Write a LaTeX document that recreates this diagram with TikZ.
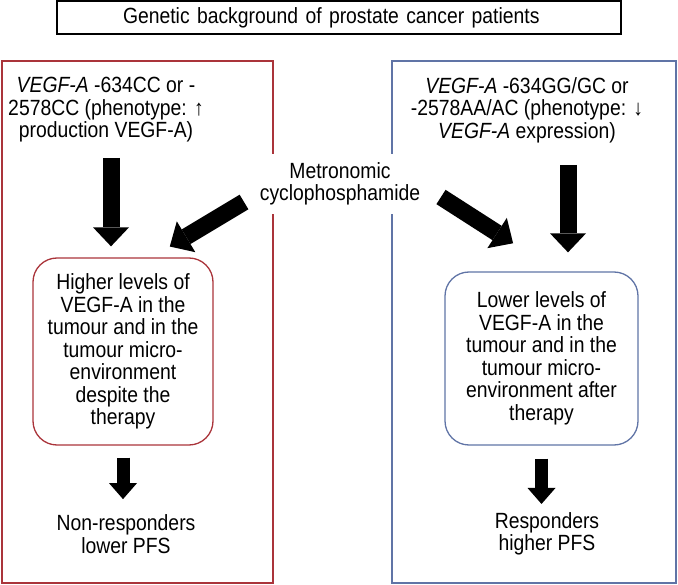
\documentclass[tikz,border=0pt]{standalone}
\usepackage{fontspec}
\setmainfont{Liberation Sans}[FakeStretch=0.88]
\usepackage{tikz}
\usetikzlibrary{arrows.meta}

\definecolor{nonred}{RGB}{170,52,58}
\definecolor{respblue}{RGB}{96,116,166}

\tikzset{
	txt/.style={align=center, font=\fontsize{22}{22.5}\selectfont},
	outcome/.style={txt, draw=#1, rounded corners=24pt, line width=1.3pt},
	bigarrow/.style={line width=17pt, -{Triangle[width=36pt,length=19pt,line width=0pt]}},
	smallarrow/.style={line width=13pt, -{Triangle[width=28pt,length=16pt,line width=0pt]}},
}

\begin{document}
\begin{tikzpicture}[x=1pt,y=1pt]
		\useasboundingbox (0,0) rectangle (678,-585);
%		\draw[help lines,step=50] (0,0) grid (678,-585);
		\draw[nonred, line width=1.3pt] (2,-61) rectangle (273,-583);
		\draw[respblue, line width=1.3pt] (392,-61) rectangle (676,-583);

		\path (111,-158) coordinate (down_l);
		\path (568,-165) coordinate (down_r);
		\path (244,-202) coordinate (cyc_l);
		\path (441,-197) coordinate (cyc_r);

		\node[txt, align=left, draw, line width=1.6pt, text width=432pt, inner xsep=66pt, minimum height=33pt] (title) at (339,-17.5) {Genetic background of prostate cancer patients};

		\node[txt] (genL) at (106,-110) {\textit{VEGF-A} -634CC or -\\2578CC (phenotype: ↑\\production VEGF-A)};
		\node[txt] (genR) at (527,-110) {\textit{VEGF-A} -634GG/GC or\\-2578AA/AC (phenotype: ↓\\\textit{VEGF-A} expression)};

		\node[txt, fill=white, inner xsep=4pt, minimum height=60pt] (metro) at (340,-184) {Metronomic\\cyclophosphamide};

		\node[outcome=nonred, minimum width=180pt, minimum height=187pt] (highL) at (123,-351.5) {Higher levels of\\VEGF-A in the\\tumour and in the\\tumour micro-\\environment\\despite the\\therapy};
		\node[outcome=respblue, minimum width=193pt, minimum height=173pt] (lowR) at (541.5,-358.5) {Lower levels of\\VEGF-A in the\\tumour and in the\\tumour micro-\\environment after\\therapy};

		\node[txt] (nonresp) at (126,-534) {Non-responders\\lower PFS};
		\node[txt] (resp) at (547,-534) {Responders\\higher PFS};

		\draw[bigarrow, shorten >=11pt] (down_l) -- (down_l |- highL.north);
		\draw[bigarrow, shorten >=19pt] (down_r) -- (down_r |- lowR.north);
		\draw[bigarrow, shorten >=21pt] (cyc_l) -- (highL.73);
		\draw[bigarrow, shorten >=52pt] (cyc_r) -- (lowR.80);

		\draw[smallarrow, shorten <=12pt, shorten >=12pt] (highL.south) -- (highL.south |- nonresp.north);
		\draw[smallarrow, shorten <=13pt, shorten >=5pt] (lowR.south) -- (lowR.south |- resp.north);
\end{tikzpicture}
\end{document}
